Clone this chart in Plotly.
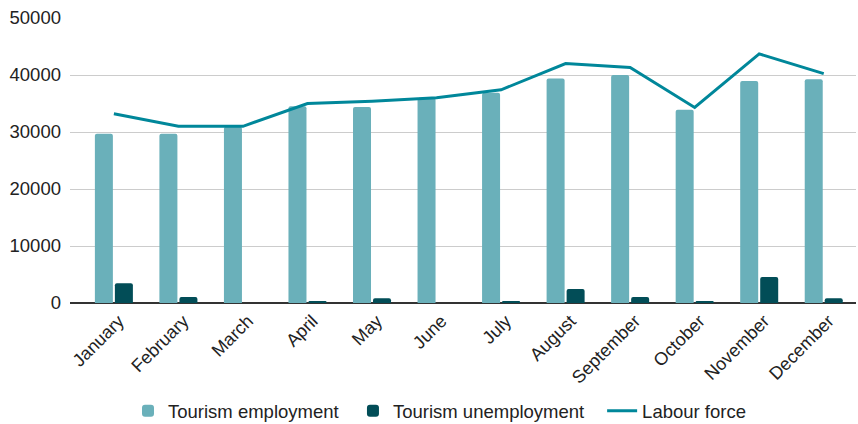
import plotly.graph_objects as go

months = ["January", "February", "March", "April", "May", "June", "July",
          "August", "September", "October", "November", "December"]
tourism_employment = [29700, 29700, 30900, 34500, 34400, 36000, 36900,
                      39400, 40000, 33900, 38950, 39250]
tourism_unemployment = [3450, 1050, 0, 300, 820, 0, 300,
                        2450, 1050, 300, 4560, 820]
labour_force = [33200, 31000, 31000, 35000, 35400, 36000, 37400,
                42000, 41300, 34300, 43700, 40250]

FONT = "Liberation Sans, Arial, sans-serif"
TEXT = "#222222"

fig = go.Figure()
fig.add_trace(go.Bar(
    x=months, y=tourism_employment, name="Tourism employment",
    marker=dict(color="#6AB0BA", line=dict(width=0)), legend="legend",
))
fig.add_trace(go.Bar(
    x=months, y=tourism_unemployment, name="Tourism unemployment",
    marker=dict(color="#024D57", line=dict(width=0)), legend="legend2",
))
fig.add_trace(go.Scatter(
    x=months, y=labour_force, name="Labour force", mode="lines",
    line=dict(color="#00879A", width=3), legend="legend3",
))

legend_common = dict(orientation="h", y=-0.38, yanchor="middle",
                     xanchor="left", font=dict(size=18.5, color=TEXT),
                     itemwidth=30, bgcolor="rgba(0,0,0,0)")

fig.update_layout(
    width=858, height=424,
    margin=dict(l=70, r=2, t=18, b=121, autoexpand=False),
    paper_bgcolor="white", plot_bgcolor="white",
    barmode="group", bargap=0.38, bargroupgap=0.1, barcornerradius=2,
    font=dict(family=FONT, size=18, color=TEXT),
    showlegend=True,
    legend=dict(x=0.0738, **legend_common),
    legend2=dict(x=0.36, **legend_common),
    legend3=dict(x=0.677, **legend_common),
    xaxis=dict(type="category", range=[-0.68, 11.5], tickangle=-45,
               showgrid=False, ticks="", tickfont=dict(size=18),
               showline=False, automargin=False,
               ticklabelshift=5, ticklabelstandoff=3),
    yaxis=dict(range=[0, 50000], dtick=10000, tickformat="d",
               showgrid=True, gridcolor="#CCCCCC", gridwidth=1,
               zeroline=True, zerolinecolor="#333333", zerolinewidth=1.5,
               ticks="", tickfont=dict(size=18.5), ticklabelstandoff=8,
               automargin=False),
)

fig.write_html("out.html")
